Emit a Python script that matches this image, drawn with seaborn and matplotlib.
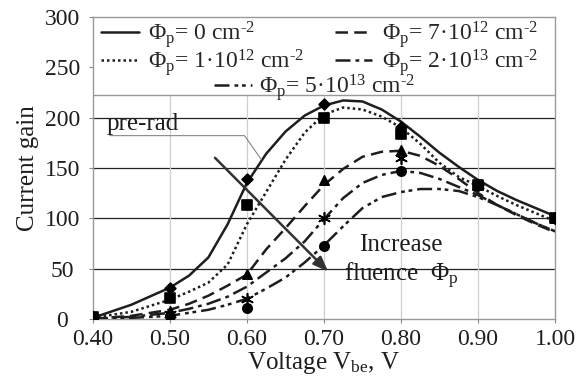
import matplotlib
matplotlib.use("Agg")
import matplotlib.pyplot as plt
from matplotlib.patches import Rectangle
import seaborn as sns

# ---------------------------------------------------------------------------
# Data
# ---------------------------------------------------------------------------
# smooth fitted curves (sampled every 0.025 V)
v_curve = [0.400, 0.450, 0.500, 0.525, 0.550, 0.575, 0.600, 0.625, 0.650,
           0.675, 0.700, 0.725, 0.750, 0.775, 0.800, 0.825, 0.850, 0.875,
           0.900, 0.925, 0.950, 0.975, 1.000]
gain_0 = [1, 14, 31, 43, 61, 94, 135, 164, 186, 202, 212, 217, 216, 208,
          196, 181, 165, 151, 138, 127, 118, 110, 102]
gain_1e12 = [1, 7, 19, 27, 36, 54, 94, 126, 158, 185, 203, 210, 208, 201,
             190, 174, 155, 141, 132, 122, 113, 105, 97]
gain_7e12 = [0, 3, 9, 15, 23, 33, 44, 69, 90, 112, 133, 149, 161, 166,
             167, 162, 152, 139, 125, 113, 103, 94, 86]
gain_2e13 = [0, 2, 6, 10, 15, 22, 32, 46, 60, 77, 99, 120, 135, 143,
             147, 145, 139, 131, 123, 113, 104, 95, 87]
gain_5e13 = [0, 1, 3, 6, 9, 14, 20, 30, 41, 56, 73, 92, 110, 121,
             126, 129, 129, 127, 121, 113, 104, 95, 87]

# measured points
v_meas = [0.4, 0.5, 0.6, 0.7, 0.8, 0.9, 1.0]
meas_0 = [2, 31, 139, 213, 191, 133, 100]
meas_1e12 = [2, 21, 113, 200, 184, 133, 100]
meas_7e12 = [2, 8, 45, 138, 168, 133, 100]
meas_2e13 = [2, 5, 20, 100, 160, 133, 100]
meas_5e13 = [2, 3, 11, 72, 147, 133, 100]

labels = [
    r"Φ$_\mathrm{p}$= 0 cm$^{\text{-}2}$",
    r"Φ$_\mathrm{p}$= 1·10$^{12}$ cm$^{\text{-}2}$",
    r"Φ$_\mathrm{p}$= 7·10$^{12}$ cm$^{\text{-}2}$",
    r"Φ$_\mathrm{p}$= 2·10$^{13}$ cm$^{\text{-}2}$",
    r"Φ$_\mathrm{p}$= 5·10$^{13}$ cm$^{\text{-}2}$",
]
x_ticks = [0.40, 0.50, 0.60, 0.70, 0.80, 0.90, 1.00]
y_ticks = [0, 50, 100, 150, 200, 250, 300]

curves = [gain_0, gain_1e12, gain_7e12, gain_2e13, gain_5e13]
points = [meas_0, meas_1e12, meas_7e12, meas_2e13, meas_5e13]
styles = ["-", (0, (1, 1.2)), (0, (5, 2.5)), (0, (6, 2, 1.5, 2)),
          (0, (6, 2, 1.5, 1.5, 1.5, 2))]
markers = ["D", "s", "^", (6, 2, 0), "o"]
msizes = [30, 45, 45, 70, 45]

# ---------------------------------------------------------------------------
# Plot
# ---------------------------------------------------------------------------
sns.set_style("white")
plt.rcParams["font.family"] = ["Liberation Serif", "DejaVu Serif"]
plt.rcParams["mathtext.fontset"] = "custom"
plt.rcParams["mathtext.rm"] = "Liberation Serif"
plt.rcParams["mathtext.it"] = "Liberation Serif:italic"

ink = "#1e1e1e"
fig = plt.figure(figsize=(5.8, 3.76), dpi=100)
ax = fig.add_axes([0.160, 0.152, 0.797, 0.803])

handles = []
for ys, ls, lab in zip(curves, styles, labels):
    sns.lineplot(x=v_curve, y=ys, ax=ax, color=ink, linestyle=ls, lw=1.8,
                 label=lab, legend=False, zorder=3)
    handles.append(ax.lines[-1])

for ys, m, s in zip(points, markers, msizes):
    sns.scatterplot(x=v_meas, y=ys, ax=ax, marker=m, s=s, color="black",
                    edgecolor="black", linewidth=1.2, zorder=4, legend=False)

ax.set_xlim(0.4, 1.0)
ax.set_ylim(0, 300)
ax.set_xticks(x_ticks)
ax.set_xticklabels([f"{t:.2f}" for t in x_ticks])
ax.set_yticks(y_ticks)
ax.tick_params(axis="both", labelsize=17, length=3, color="#888888",
               direction="out", left=True, bottom=True)
# y tick labels are centred in their column, as in the original
ax.tick_params(axis="y", pad=19)
ax.tick_params(axis="x", pad=4)
for t in ax.get_yticklabels():
    t.set_horizontalalignment("center")
for t in ax.get_xticklabels() + ax.get_yticklabels():
    t.set_color(ink)

# grid: dark horizontal, light vertical
for yv in [50, 100, 150, 200]:
    ax.axhline(yv, color="#222222", lw=0.9, zorder=1)
for xv in [0.5, 0.6, 0.7, 0.8, 0.9]:
    ax.axvline(xv, color="#cfcfcf", lw=0.9, zorder=1)
for sp in ax.spines.values():
    sp.set_color("#999999")
    sp.set_linewidth(1.0)

ax.set_xlabel(r"Voltage V$_\mathrm{be}$, V", fontsize=18, color=ink, labelpad=0)
ax.set_ylabel("Current gain", fontsize=18, color=ink, labelpad=4)

# legend area box on top of the plot
ax.add_patch(Rectangle((0, 222 / 300), 1, 1 - 222 / 300, transform=ax.transAxes,
                       facecolor="white", edgecolor="#999999", lw=1.0, zorder=6))
leg_font = 17
leg1 = ax.legend([handles[0], handles[1], handles[2], handles[3]],
                 [labels[0], labels[1], labels[2], labels[3]],
                 ncol=2, loc="upper center", bbox_to_anchor=(0.49, 1.025),
                 frameon=False, fontsize=leg_font, handlelength=1.6,
                 handletextpad=0.4, columnspacing=1.3, labelspacing=-0.12,
                 borderaxespad=0)
leg1.set_zorder(7)
ax.add_artist(leg1)
leg2 = ax.legend([handles[4]], [labels[4]], loc="upper center",
                 bbox_to_anchor=(0.48, 0.85), frameon=False, fontsize=leg_font,
                 handlelength=1.6, handletextpad=0.3, borderaxespad=0)
leg2.set_zorder(7)

# annotations
ax.text(0.418, 188, "pre-rad", fontsize=18, color=ink, zorder=5)
ax.plot([0.422, 0.597, 0.619], [182, 182, 158], color="#777777", lw=0.7, zorder=5)
ax.annotate("", xy=(0.708, 45), xytext=(0.556, 162),
            arrowprops=dict(arrowstyle="-|>,head_length=0.9,head_width=0.35",
                            color="#333333", lw=1.8), zorder=5)
ax.text(0.80, 73, "Increase", fontsize=18, color=ink, ha="center", va="center", zorder=5)
ax.text(0.80, 43, r"fluence  Φ$_\mathrm{p}$", fontsize=18, color=ink,
        ha="center", va="center", zorder=5)

fig.savefig("out.png", dpi=100)
